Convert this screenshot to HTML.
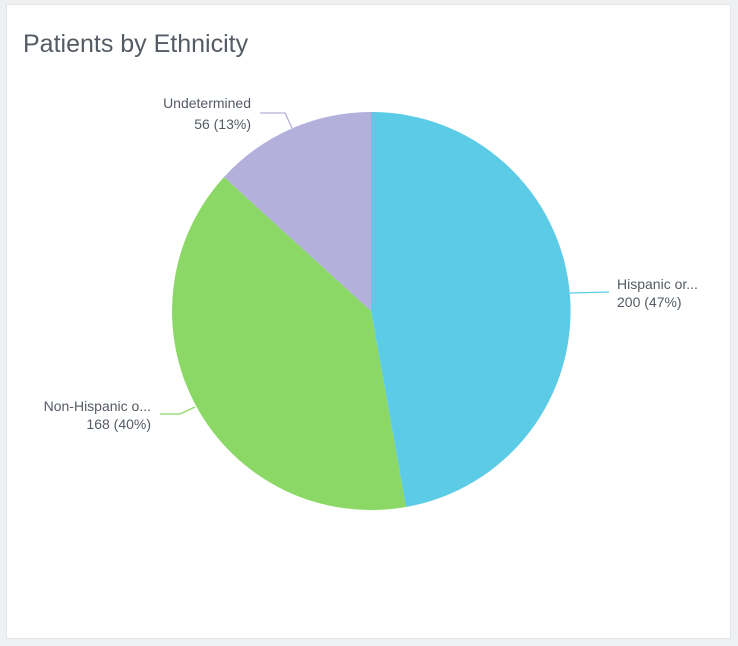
<!DOCTYPE html><html><head><style>
body{margin:0;width:738px;height:646px;background:#eef0f2;font-family:"Liberation Sans",sans-serif;overflow:hidden}
.card{position:absolute;left:6px;top:4px;width:723px;height:633px;background:#fff;border:1px solid #e3e5e8}
</style></head><body><div class="card"></div>
<svg width="738" height="646" style="position:absolute;left:0;top:0">
<text x="23" y="52" font-size="25" fill="#545b64">Patients by Ethnicity</text>
<path d="M371,311 L371,112 A199,199 0 0 1 406,507 Z" fill="#5ccbe5"/>
<path d="M371,311 L406,507 A199,199 0 0 1 224,177 Z" fill="#8cd867"/>
<path d="M371,311 L224,177 A199,199 0 0 1 371,112 Z" fill="#b3b0dc"/>
<g fill="none" stroke-width="1.3">
<path d="M570,293 L609,292" stroke="#5ccbe5"/>
<path d="M260,113 L285,113 L292,128" stroke="#b3b0dc"/>
<path d="M160,414 L180,414 L195,407" stroke="#8cd867"/>
</g>
<g font-size="14" fill="#545b64">
<text x="617" y="289">Hispanic or...</text>
<text x="617" y="307">200 (47%)</text>
<text x="251" y="108" text-anchor="end">Undetermined</text>
<text x="251" y="129" text-anchor="end">56 (13%)</text>
<text x="151" y="411" text-anchor="end">Non-Hispanic o...</text>
<text x="151" y="429" text-anchor="end">168 (40%)</text>
</g></svg></body></html>
